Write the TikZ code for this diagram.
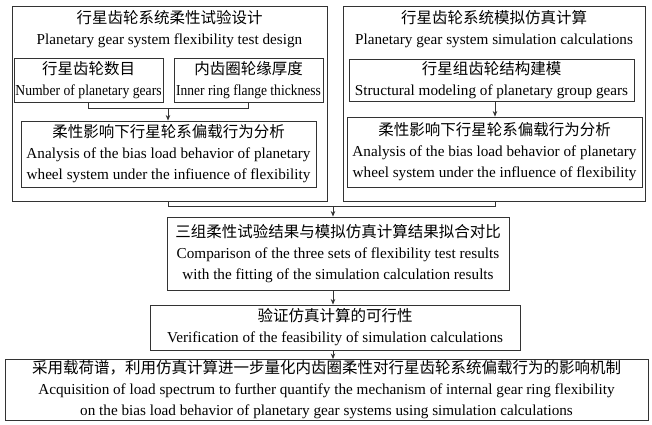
\documentclass[tikz,border=0pt]{standalone}
\usepackage{fontspec}
\usepackage{graphicx}
\setmainfont{Liberation Serif}
\newfontfamily\cjk{Noto Sans CJK SC}
\usetikzlibrary{arrows.meta}
\newcommand\entext{\fontsize{15.2}{21}\selectfont}
\newcommand\zh[1]{{\cjk\fontsize{15.5}{21}\selectfont #1}}
\newcommand\sq[2]{\scalebox{#1}[1]{#2}}
\tikzset{
  box/.style={draw=black!80, line width=0.9pt, inner sep=0pt, align=center, font=\entext},
  label/.style={inner sep=0pt, align=center, font=\entext},
  conn/.style={draw=black!80, line width=0.9pt},
  arr/.style={conn, -{Stealth[length=5.5pt,width=4.5pt]}},
}
\begin{document}
\begin{tikzpicture}[x=1pt,y=-1pt]
\useasboundingbox (0,0) rectangle (652,424);
% left panel
\node[box, minimum width=315, minimum height=195] (L) at (169.5,103.5) {};
\node[label] (Lt) at (169.5,29) {\zh{行星齿轮系统柔性试验设计}\\Planetary gear system flexibility test design};
\node[box, minimum width=149, minimum height=44] (L1) at (88.5,80) {\zh{行星齿轮数目}\\\sq{0.9}{Number of planetary gears}};
\node[box, minimum width=149, minimum height=44] (L2) at (248.5,80) {\zh{内齿圈轮缘厚度}\\\sq{0.89}{Inner ring flange thickness}};
\node[box, minimum width=295, minimum height=66] (LA) at (168.5,154) {\zh{柔性影响下行星轮系偏载行为分析}\\Analysis of the bias load behavior of planetary\\wheel system under the infiuence of flexibility};
\coordinate (jL) at (168,108);
\draw[conn] (L1.south) -- (L1.south |- jL) -- (L2.south |- jL) -- (L2.south);
\draw[arr] (jL) -- (LA.north -| jL);
% right panel
\node[box, minimum width=302, minimum height=195] (R) at (494,103.5) {};
\node[label] (Rt) at (494,29) {\zh{行星齿轮系统模拟仿真计算}\\Planetary gear system simulation calculations};
\node[box, minimum width=285, minimum height=42] (R1) at (491.5,80) {\zh{行星组齿轮结构建模}\\Structural modeling of planetary group gears};
\node[box, minimum width=295, minimum height=70] (RA) at (494.5,152) {\zh{柔性影响下行星轮系偏载行为分析}\\Analysis of the bias load behavior of planetary\\wheel system under the influence of flexibility};
\coordinate (jR) at (495,0);
\draw[arr] (R1.south -| jR) -- (RA.north -| jR);
% lower chain
\coordinate (jM) at (333,206);
\node[box, minimum width=342, minimum height=73] (C) at (338,253.5) {\zh{三组柔性试验结果与模拟仿真计算结果拟合对比}\\Comparison of the three sets of flexibility test results\\with the fitting of the simulation calculation results};
\node[box, minimum width=370, minimum height=45] (V) at (335,327.5) {\zh{验证仿真计算的可行性}\\Verification of the feasibility of simulation calculations};
\node[box, minimum width=643, minimum height=61] (F) at (326.5,390) {\zh{采用载荷谱，利用仿真计算进一步量化内齿圈柔性对行星齿轮系统偏载行为的影响机制}\\Acquisition of load spectrum to further quantify the mechanism of internal gear ring flexibility\\on the bias load behavior of planetary gear systems using simulation calculations};
\draw[conn] (L.south -| 168,0) -- (168,206) -- (495,206) -- (R.south -| jR);
\draw[arr] (jM) -- (C.north -| jM);
\draw[arr] (C.south -| jM) -- (V.north -| jM);
\draw[arr] (V.south -| jM) -- (F.north -| jM);
\end{tikzpicture}
\end{document}
